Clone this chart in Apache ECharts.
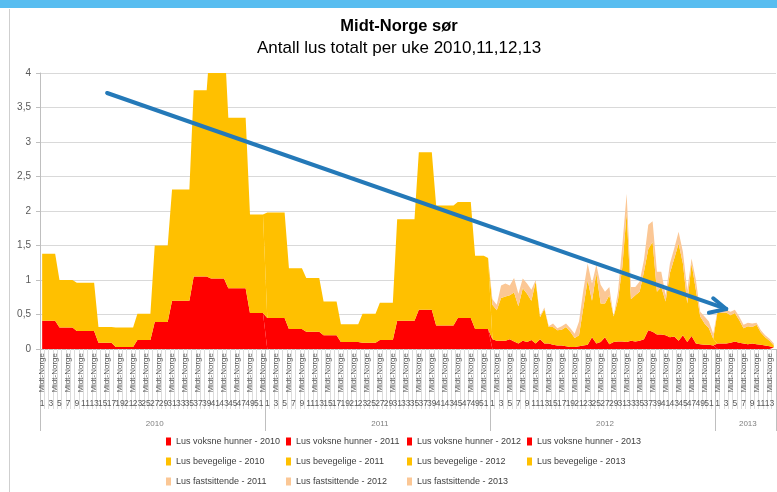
<!DOCTYPE html>
<html><head><meta charset="utf-8">
<script src="https://cdn.jsdelivr.net/npm/echarts/dist/echarts.min.js"></script>
<style>html,body{margin:0;padding:0;background:#fff}#c{width:777px;height:492px}</style>
</head><body><div id="c"></div>
<script>
const FONT = 'Liberation Sans, Arial, sans-serif';
const years = ['2010', '2011', '2012', '2013'];
const weeksPerYear = [52, 52, 52, 14];

// Lus voksne hunner (red)
const voksne2010 = [0.41,0.41,0.41,0.41, 0.31,0.31,0.31,0.31, 0.26,0.26,0.26,0.26,0.26, 0.09,0.09,0.09,0.09, 0.03,0.03,0.03,0.03,0.03, 0.13,0.13,0.13,0.13, 0.39,0.39,0.39,0.39, 0.70,0.70,0.70,0.70,0.70, 1.05,1.05,1.05,1.05, 1.02,1.02,1.02,1.02, 0.88,0.88,0.88,0.88,0.88, 0.52,0.52,0.52,0.52];
const voksne2011 = [0.45,0.45,0.45,0.45,0.45, 0.29,0.29,0.29,0.29, 0.25,0.25,0.25,0.25, 0.20,0.20,0.20,0.20, 0.10,0.10,0.10,0.10,0.10, 0.09,0.09,0.09,0.09, 0.13,0.13,0.13,0.13, 0.41,0.41,0.41,0.41,0.41, 0.57,0.57,0.57,0.57, 0.34,0.34,0.34,0.34,0.34, 0.45,0.45,0.45,0.45, 0.29,0.29,0.29,0.29];
const voksne2012 = [0.14,0.12,0.12,0.12,0.14,0.11,0.08,0.12,0.10,0.13,0.08,0.14,0.08,0.08,0.06,0.05,0.05,0.04,0.03,0.03,0.04,0.05,0.06,0.17,0.08,0.10,0.17,0.07,0.10,0.11,0.11,0.10,0.12,0.11,0.12,0.14,0.27,0.25,0.21,0.21,0.20,0.17,0.18,0.12,0.20,0.10,0.19,0.08,0.07,0.06,0.06,0.05];
const voksne2013 = [0.08,0.08,0.08,0.09,0.11,0.09,0.08,0.07,0.08,0.07,0.06,0.05,0.04,0.02];

// Lus bevegelige (yellow)
const bevegelige2010 = [0.97,0.97,0.97,0.97, 0.69,0.69,0.69,0.69, 0.70,0.70,0.70,0.70,0.70, 0.23,0.23,0.23,0.23, 0.28,0.28,0.28,0.28,0.28, 0.38,0.38,0.38,0.38, 1.11,1.11,1.11,1.11, 1.61,1.61,1.61,1.61,1.61, 2.70,2.70,2.70,2.70, 3.58,3.58,3.58,3.58, 2.47,2.47,2.47,2.47,2.47, 1.43,1.43,1.43,1.43];
const bevegelige2011 = [1.53,1.53,1.53,1.53,1.53, 0.88,0.88,0.88,0.88, 0.78,0.78,0.78,0.78, 0.49,0.49,0.49,0.49, 0.26,0.26,0.26,0.26,0.26, 0.42,0.42,0.42,0.42, 0.54,0.54,0.54,0.54, 1.47,1.47,1.47,1.47,1.47, 2.28,2.28,2.28,2.28, 1.74,1.74,1.74,1.74,1.74, 1.68,1.68,1.68,1.68, 1.06,1.06,1.06,1.03];
const bevegelige2012 = [0.50,0.44,0.62,0.64,0.64,0.71,0.54,0.76,0.70,0.57,0.90,0.32,0.50,0.24,0.26,0.22,0.23,0.28,0.22,0.13,0.16,0.55,0.94,0.53,1.02,0.56,0.49,0.71,0.37,0.60,1.08,1.87,0.60,0.67,0.71,0.98,1.18,1.30,0.62,0.69,0.49,0.93,1.13,1.41,1.04,0.56,1.05,0.77,0.40,0.31,0.24,0.10];
const bevegelige2013 = [0.46,0.44,0.45,0.40,0.41,0.33,0.22,0.26,0.24,0.28,0.18,0.12,0.08,0.03];

// Lus fastsittende (peach)
const fastsittende2011 = [0,0,0,0,0,0,0,0,0,0,0,0,0,0,0,0,0,0,0,0,0,0,0,0,0,0,0,0,0,0,0,0,0,0,0,0,0,0,0,0,0,0,0,0,0,0,0,0,0,0,0,0];
const fastsittende2012 = [0.08,0.08,0.18,0.19,0.14,0.21,0.18,0.14,0.15,0.16,0.02,0.02,0.02,0.01,0.05,0.03,0.05,0.05,0.05,0.06,0.20,0.25,0.24,0.25,0.12,0.27,0.17,0.12,0.00,0.12,0.31,0.28,0.18,0.12,0.15,0.17,0.35,0.30,0.29,0.22,0.09,0.14,0.15,0.17,0.17,0.19,0.07,0.15,0.07,0.10,0.10,0.07];
const fastsittende2013 = [0.02,0.05,0.04,0.05,0.05,0.05,0.05,0.05,0.05,0.03,0.03,0.03,0.03,0.03];

// Drawn trend arrow (annotation), in data space: [category index, value]
const arrowStart = [15.0, 3.71];
const arrowTip = [157.9, 0.58];
const arrowArmA = [155.0, 0.735];
const arrowArmB = [154.1, 0.526];

// ---- build category axis ----
const catWeeks = [], catYears = [], yearStart = [];
years.forEach((y, k) => {
  yearStart.push(catWeeks.length);
  for (let w = 1; w <= weeksPerYear[k]; w++) { catWeeks.push(String(w)); catYears.push(y); }
});
const N = catWeeks.length;
const yearMid = yearStart.map((s, k) => s + Math.floor(weeksPerYear[k] / 2));
function spread(arr, yk) {
  const out = [];
  for (let i = 0; i < N; i++) out.push(0);
  arr.forEach((v, i) => { out[yearStart[yk] + i] = v; });
  return out;
}

const RED = '#FF0000', YEL = '#FFC000', PEACH = '#FBC795';
const seriesDefs = [
  ['Lus voksne hunner - 2010', voksne2010, 0, RED],
  ['Lus voksne hunner - 2011', voksne2011, 1, RED],
  ['Lus voksne hunner - 2012', voksne2012, 2, RED],
  ['Lus voksne hunner - 2013', voksne2013, 3, RED],
  ['Lus bevegelige - 2010', bevegelige2010, 0, YEL],
  ['Lus bevegelige - 2011', bevegelige2011, 1, YEL],
  ['Lus bevegelige - 2012', bevegelige2012, 2, YEL],
  ['Lus bevegelige - 2013', bevegelige2013, 3, YEL],
  ['Lus fastsittende - 2011', fastsittende2011, 1, PEACH],
  ['Lus fastsittende - 2012', fastsittende2012, 2, PEACH],
  ['Lus fastsittende - 2013', fastsittende2013, 3, PEACH]
];

const series = seriesDefs.map(([name, arr, yk, col]) => ({
  name, type: 'line', stack: 'all', data: spread(arr, yk),
  symbol: 'none', showSymbol: false, smooth: false,
  lineStyle: { width: 0, color: col }, itemStyle: { color: col },
  areaStyle: { color: col, opacity: 1 }, emphasis: { disabled: true }
}));
series.push({
  name: 'trend', type: 'line', data: [], symbol: 'none', z: 10,
  markLine: {
    silent: true, symbol: 'none', animation: false, z: 10,
    label: { show: false },
    lineStyle: { color: '#2479b8', width: 4, type: 'solid', cap: 'round' },
    emphasis: { disabled: true },
    data: [
      [{ coord: arrowStart }, { coord: arrowTip }],
      [{ coord: arrowArmA }, { coord: arrowTip }],
      [{ coord: arrowArmB }, { coord: arrowTip }]
    ]
  }
});

// legends: 3 rows x 4 columns
const legendCols = [166, 286, 407, 527];
const legendRows = [437, 457, 477];
const legendNames = seriesDefs.map(d => d[0]);
const legendPos = [[0,0],[0,1],[0,2],[0,3],[1,0],[1,1],[1,2],[1,3],[2,0],[2,1],[2,2]];
const legends = legendNames.map((name, k) => ({
  data: [name], left: legendCols[legendPos[k][1]], top: legendRows[legendPos[k][0]],
  padding: 0, icon: 'rect', itemWidth: 5, itemHeight: 8, selectedMode: false,
  textStyle: { fontSize: 9, color: '#404040', fontFamily: FONT }
}));

const chart = echarts.init(document.getElementById('c'), null, { renderer: 'canvas' });
chart.setOption({
  animation: false,
  backgroundColor: '#ffffff',
  textStyle: { fontFamily: FONT },
  graphic: [
    { type: 'rect', silent: true, z: -10, shape: { x: 0, y: 0, width: 777, height: 8 }, style: { fill: '#58bdf0' } },
    { type: 'line', silent: true, z: -10, shape: { x1: 9.5, y1: 9, x2: 9.5, y2: 492 }, style: { stroke: '#cfcfcf', lineWidth: 1 } }
  ],
  title: [
    { text: 'Midt-Norge sør', left: 399, top: 18, padding: 0, textAlign: 'center',
      textStyle: { fontSize: 16.5, fontWeight: 'bold', color: '#000', fontFamily: FONT } },
    { text: 'Antall lus totalt per uke 2010,11,12,13', left: 399, top: 40, padding: 0, textAlign: 'center',
      textStyle: { fontSize: 17, fontWeight: 'normal', color: '#000', fontFamily: FONT } }
  ],
  legend: legends,
  grid: { left: 40, right: 1, top: 73, bottom: 143, containLabel: false, outerBoundsMode: 'none' },
  xAxis: [
    { type: 'category', data: catWeeks, boundaryGap: true, position: 'bottom',
      axisLine: { show: true, lineStyle: { color: '#bfbfbf' } },
      axisTick: { show: true, interval: 0, length: 60, lineStyle: { color: '#dcdcdc' } },
      axisLabel: { interval: 2, rotate: 90, margin: 4, fontSize: 8, color: '#595959',
        formatter: () => 'Midt-Norge' },
      splitLine: { show: false } },
    { type: 'category', data: catWeeks, boundaryGap: true, position: 'bottom',
      axisLine: { show: false }, axisTick: { show: false },
      axisLabel: { interval: 0, margin: 50, fontSize: 8.5, color: '#595959', showMinLabel: true, showMaxLabel: true,
        hideOverlap: false, formatter: (v, i) => (i % 2 === 0 ? v : '') } },
    { type: 'category', data: catYears, boundaryGap: true, position: 'bottom',
      axisLine: { show: false },
      axisTick: { show: true, length: 82, interval: (i) => yearStart.indexOf(i) >= 0, lineStyle: { color: '#bfbfbf' } },
      axisLabel: { interval: (i) => yearMid.indexOf(i) >= 0, margin: 71, fontSize: 8, color: '#7f7f7f' } }
  ],
  yAxis: {
    type: 'value', min: 0, max: 4, interval: 0.5,
    axisLine: { show: true, lineStyle: { color: '#bfbfbf' } },
    axisTick: { show: true, length: 4, lineStyle: { color: '#bfbfbf' } },
    axisLabel: { margin: 9, fontSize: 10, color: '#595959', formatter: v => String(v).replace('.', ',') },
    splitLine: { lineStyle: { color: '#d9d9d9', width: 1 } }
  },
  series
});
</script></body></html>
